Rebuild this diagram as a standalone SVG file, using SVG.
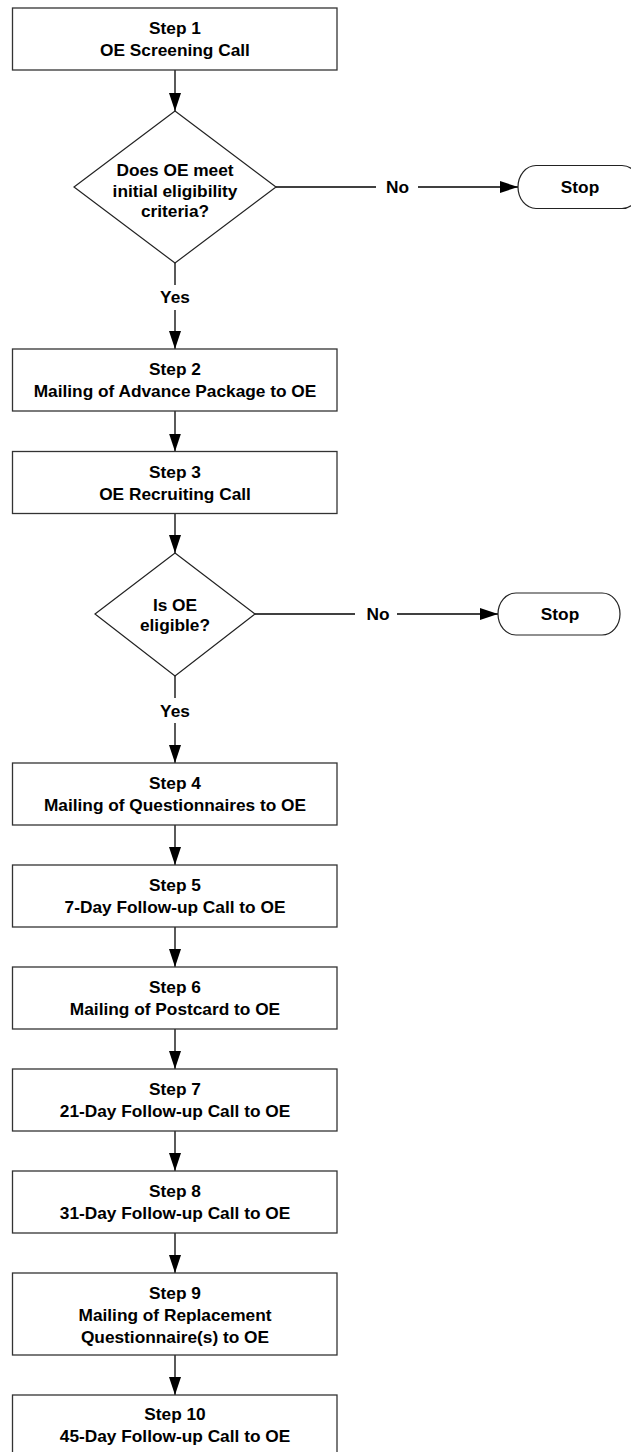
<svg xmlns="http://www.w3.org/2000/svg" width="631" height="1452" viewBox="0 0 631 1452">
<style>
.box{fill:#fff;stroke:#333;stroke-width:1.3}
.dec{fill:#fff;stroke:#222;stroke-width:1.2}
.term{fill:#fff;stroke:#222;stroke-width:1.2}
.t{font-family:"Liberation Sans",Arial,sans-serif;font-weight:bold;font-size:17.3px;fill:#000;text-anchor:middle}
.c{fill:none;stroke:#000;stroke-width:1.3}
</style>
<defs>
<marker id="ah" markerUnits="userSpaceOnUse" markerWidth="18" markerHeight="12" refX="18" refY="6" orient="auto">
<path d="M0,0 L18,6 L0,12 z" fill="#000"/>
</marker>
</defs>
<rect width="631" height="1452" fill="#fff"/>
<g id="connectors">
<line class="c" x1="175" y1="70" x2="175" y2="111" marker-end="url(#ah)"/>
<line class="c" x1="276" y1="187" x2="376" y2="187"/>
<line class="c" x1="418" y1="187" x2="518" y2="187" marker-end="url(#ah)"/>
<text class="t" x="397.5" y="193">No</text>
<line class="c" x1="175" y1="263" x2="175" y2="285"/>
<text class="t" x="175" y="303">Yes</text>
<line class="c" x1="175" y1="310" x2="175" y2="349" marker-end="url(#ah)"/>
<line class="c" x1="175" y1="411" x2="175" y2="451.5" marker-end="url(#ah)"/>
<line class="c" x1="175" y1="513.5" x2="175" y2="553" marker-end="url(#ah)"/>
<line class="c" x1="255" y1="614" x2="355" y2="614"/>
<line class="c" x1="397" y1="614" x2="498" y2="614" marker-end="url(#ah)"/>
<text class="t" x="378" y="620">No</text>
<line class="c" x1="175" y1="676" x2="175" y2="698"/>
<text class="t" x="175" y="717">Yes</text>
<line class="c" x1="175" y1="723" x2="175" y2="763" marker-end="url(#ah)"/>
<line class="c" x1="175" y1="825" x2="175" y2="865" marker-end="url(#ah)"/>
<line class="c" x1="175" y1="927" x2="175" y2="967" marker-end="url(#ah)"/>
<line class="c" x1="175" y1="1029" x2="175" y2="1069" marker-end="url(#ah)"/>
<line class="c" x1="175" y1="1131" x2="175" y2="1171" marker-end="url(#ah)"/>
<line class="c" x1="175" y1="1233" x2="175" y2="1273" marker-end="url(#ah)"/>
<line class="c" x1="175" y1="1355" x2="175" y2="1395" marker-end="url(#ah)"/>
</g>
<g id="step1">
<rect class="box" x="12.5" y="8" width="324.5" height="62"/>
<text class="t" x="175" y="34">Step 1</text>
<text class="t" x="175" y="56">OE Screening Call</text>
</g>
<g id="decision1">
<polygon class="dec" points="175,111 276,187 175,263 74,187"/>
<text class="t" x="175" y="176">Does OE meet</text>
<text class="t" x="175" y="197">initial eligibility</text>
<text class="t" x="175" y="217">criteria?</text>
</g>
<g id="stop1">
<rect class="term" x="518" y="165.5" width="122" height="43" rx="18" ry="21.5"/>
<text class="t" x="580" y="193">Stop</text>
</g>
<g id="step2">
<rect class="box" x="12.5" y="349" width="324.5" height="62"/>
<text class="t" x="175" y="375">Step 2</text>
<text class="t" x="175" y="397">Mailing of Advance Package to OE</text>
</g>
<g id="step3">
<rect class="box" x="12.5" y="451.5" width="324.5" height="62"/>
<text class="t" x="175" y="478">Step 3</text>
<text class="t" x="175" y="500">OE Recruiting Call</text>
</g>
<g id="decision2">
<polygon class="dec" points="175,553 255,614 175,676 95,614"/>
<text class="t" x="175" y="611">Is OE</text>
<text class="t" x="175" y="631">eligible?</text>
</g>
<g id="stop2">
<rect class="term" x="498" y="593" width="122" height="42" rx="18" ry="21"/>
<text class="t" x="560" y="620">Stop</text>
</g>
<g id="step4">
<rect class="box" x="12.5" y="763" width="324.5" height="62"/>
<text class="t" x="175" y="789">Step 4</text>
<text class="t" x="175" y="811">Mailing of Questionnaires to OE</text>
</g>
<g id="step5">
<rect class="box" x="12.5" y="865" width="324.5" height="62"/>
<text class="t" x="175" y="891">Step 5</text>
<text class="t" x="175" y="913">7-Day Follow-up Call to OE</text>
</g>
<g id="step6">
<rect class="box" x="12.5" y="967" width="324.5" height="62"/>
<text class="t" x="175" y="993">Step 6</text>
<text class="t" x="175" y="1015">Mailing of Postcard to OE</text>
</g>
<g id="step7">
<rect class="box" x="12.5" y="1069" width="324.5" height="62"/>
<text class="t" x="175" y="1095">Step 7</text>
<text class="t" x="175" y="1117">21-Day Follow-up Call to OE</text>
</g>
<g id="step8">
<rect class="box" x="12.5" y="1171" width="324.5" height="62"/>
<text class="t" x="175" y="1197">Step 8</text>
<text class="t" x="175" y="1219">31-Day Follow-up Call to OE</text>
</g>
<g id="step9">
<rect class="box" x="12.5" y="1273" width="324.5" height="82"/>
<text class="t" x="175" y="1299">Step 9</text>
<text class="t" x="175" y="1321">Mailing of Replacement</text>
<text class="t" x="175" y="1343">Questionnaire(s) to OE</text>
</g>
<g id="step10">
<rect class="box" x="12.5" y="1395" width="324.5" height="62"/>
<text class="t" x="175" y="1420">Step 10</text>
<text class="t" x="175" y="1442">45-Day Follow-up Call to OE</text>
</g>
</svg>
